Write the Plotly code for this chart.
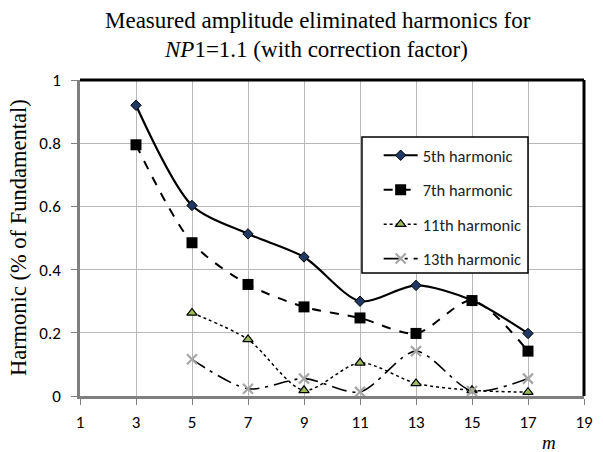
import plotly.graph_objects as go

m_vals = [3, 5, 7, 9, 11, 13, 15, 17]
h5 = [0.92, 0.603, 0.513, 0.44, 0.30, 0.35, 0.303, 0.198]
m_vals_b = [3, 5, 7, 9, 11, 13, 15, 17]
h7 = [0.795, 0.485, 0.353, 0.282, 0.247, 0.198, 0.302, 0.142]
m_vals_c = [5, 7, 9, 11, 13, 15, 17]
h11 = [0.263, 0.179, 0.018, 0.105, 0.04, 0.018, 0.012]
h13 = [0.116, 0.023, 0.055, 0.013, 0.142, 0.016, 0.055]

x_ticks = [1, 3, 5, 7, 9, 11, 13, 15, 17, 19]
y_ticks = [0, 0.2, 0.4, 0.6, 0.8, 1]
y_tick_labels = ["0", "0.2", "0.4", "0.6", "0.8", "1"]

title_line1 = "Measured amplitude eliminated harmonics for"
title_line2 = "<i>NP</i>1=1.1 (with correction factor)"
y_title = "Harmonic (% of Fundamental)"

serif = "Liberation Serif, Times New Roman, serif"
sans = "Carlito, Calibri, Liberation Sans, Arial, sans-serif"

L, R, T, B = 80, 593, 80, 396
W, H = 603, 452
pw, ph = R - L, B - T


def px(x):
    return (x - L) / pw


def py(y):
    return (B - y) / ph


fig = go.Figure()
fig.add_trace(go.Scatter(
    x=m_vals, y=h5, name="5th harmonic", mode="lines+markers", legendgroup="a",
    line=dict(color="black", width=2.2, shape="spline", smoothing=0.8),
    marker=dict(symbol="diamond", size=8, color="#1f3864", line=dict(color="black", width=1))))
fig.add_trace(go.Scatter(
    x=m_vals_b, y=h7, name="7th harmonic", mode="lines+markers", legendgroup="b",
    line=dict(color="black", width=2, dash="dash", shape="spline", smoothing=0.8),
    marker=dict(symbol="square", size=11, color="black")))
fig.add_trace(go.Scatter(
    x=m_vals_c, y=h11, name="11th harmonic", mode="lines+markers", legendgroup="c",
    line=dict(color="black", width=1.5, dash="dot", shape="spline", smoothing=0.8),
    marker=dict(symbol="triangle-up", size=9, color="#9bbb59", line=dict(color="black", width=1.2))))
fig.add_trace(go.Scatter(
    x=m_vals_c, y=h13, name="13th harmonic", mode="lines+markers", legendgroup="d",
    line=dict(color="black", width=1.6, dash="longdashdot", shape="spline", smoothing=0.8),
    marker=dict(symbol="x-thin", size=10, color="#a6a6a6", line=dict(color="#a6a6a6", width=2.2))))

fig.update_layout(
    width=W, height=H,
    margin=dict(l=L, r=W - R, t=T, b=H - B),
    paper_bgcolor="white", plot_bgcolor="white",
    showlegend=True,
    legend=dict(x=px(384), y=py(138), xanchor="left", yanchor="top",
                bgcolor="rgba(0,0,0,0)", borderwidth=0,
                font=dict(family=sans, size=16.5, color="#222"),
                tracegroupgap=10, itemwidth=34),
    xaxis=dict(range=[1, 19], tickvals=x_ticks, ticktext=[str(v) for v in x_ticks],
               showgrid=True, gridcolor="#b8b8b8", gridwidth=1,
               showline=True, linecolor="#7f7f7f", linewidth=2.5, mirror=False,
               ticks="outside", ticklen=6, tickcolor="#7f7f7f", ticklabelstandoff=3,
               tickfont=dict(family=sans, size=17, color="black"), zeroline=False),
    yaxis=dict(range=[0, 1], tickvals=y_ticks, ticktext=y_tick_labels,
               showgrid=True, gridcolor="#b8b8b8", gridwidth=1,
               showline=True, linecolor="#7f7f7f", linewidth=2.5, mirror=False,
               ticks="outside", ticklen=6, tickcolor="#7f7f7f", ticklabelstandoff=7,
               tickfont=dict(family=sans, size=17, color="black"), zeroline=False),
    shapes=[
        dict(type="line", xref="paper", yref="paper", x0=0, x1=1, y0=1, y1=1,
             line=dict(color="black", width=3)),
        dict(type="line", xref="paper", yref="paper", x0=1, x1=1, y0=0, y1=1,
             line=dict(color="black", width=3)),
        dict(type="rect", xref="paper", yref="paper", layer="above",
             x0=px(367), x1=px(536), y0=py(273), y1=py(137),
             fillcolor="white", line=dict(color="black", width=1.5)),
    ],
    annotations=[
        dict(text=title_line1, x=px(322), y=py(20), xref="paper", yref="paper",
             xanchor="center", yanchor="middle", showarrow=False,
             font=dict(family=serif, size=23, color="black")),
        dict(text=title_line2, x=px(320), y=py(50), xref="paper", yref="paper",
             xanchor="center", yanchor="middle", showarrow=False,
             font=dict(family=serif, size=23, color="black")),
        dict(text=y_title, x=px(17), y=py(238), xref="paper", yref="paper",
             xanchor="center", yanchor="middle", showarrow=False, textangle=-90,
             font=dict(family=serif, size=22.5, color="black")),
        dict(text="<i>m</i>", x=px(557), y=py(443), xref="paper", yref="paper",
             xanchor="center", yanchor="middle", showarrow=False,
             font=dict(family=serif, size=19, color="black")),
    ],
)
fig.write_html("out.html")
